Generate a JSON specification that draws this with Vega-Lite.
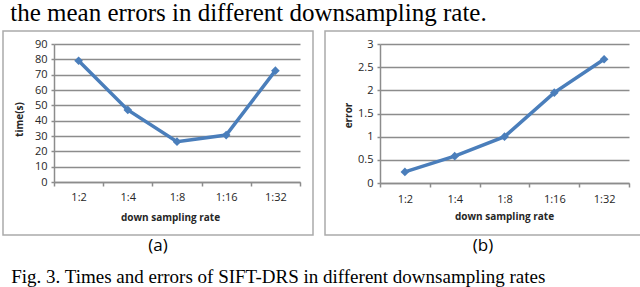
{
  "$schema": "https://vega.github.io/schema/vega-lite/v6.json",
  "padding": {"left": 2, "top": 1, "right": 0, "bottom": 0},
  "background": "white",
  "config": {
    "view": {"stroke": "#ababab", "strokeWidth": 1.5},
    "axis": {
      "labelFont": "Open Sans", "labelFontSize": 11, "labelColor": "#262626",
      "titleFont": "Open Sans", "titleFontSize": 10, "titleFontWeight": "bold", "titleColor": "#262626",
      "domainColor": "#8c8c8c", "domainWidth": 1.5, "tickColor": "#8c8c8c", "tickWidth": 1.5,
      "gridColor": "#8c8c8c", "gridWidth": 1.5
    }
  },
  "title": {
    "text": "Fig. 3. Times and errors of SIFT-DRS in different downsampling rates",
    "orient": "bottom", "anchor": "start", "font": "Liberation Serif", "fontSize": 19,
    "fontWeight": "normal", "color": "#000000", "dx": 9, "offset": 13
  },
  "vconcat": [
    {
      "title": {
        "text": "the mean errors in different downsampling rate.",
        "anchor": "start", "font": "Liberation Serif", "fontSize": 25,
        "fontWeight": "normal", "color": "#000000", "dx": 8, "offset": 4
      },
      "spacing": 10,
      "hconcat": [
        {
          "width": 310, "height": 204,
          "title": {"text": "(a)", "orient": "bottom", "font": "Open Sans", "fontSize": 17, "fontWeight": "normal", "color": "#000000", "offset": 3},
          "data": {"values": [
            {"rate": "1:2", "time": 79.1},
            {"rate": "1:4", "time": 47},
            {"rate": "1:8", "time": 26.3},
            {"rate": "1:16", "time": 30.6},
            {"rate": "1:32", "time": 72.6}
          ]},
          "encoding": {
            "x": {"field": "rate", "type": "ordinal", "sort": null,
              "scale": {"type": "band", "range": [51, 297], "paddingInner": 0, "paddingOuter": 0},
              "axis": {"orient": "bottom", "offset": -53, "tickBand": "extent", "labelAngle": 0, "tickSize": 4,
                "labelPadding": 11, "labelBaseline": "middle",
                "title": "down sampling rate", "titleX": 167, "titleY": 35, "titleBaseline": "middle", "titleAlign": "center"}},
            "y": {"field": "time", "type": "quantitative",
              "scale": {"domain": [0, 90], "range": [151, 13], "nice": false, "zero": true},
              "axis": {"orient": "left", "offset": -51, "values": [0, 10, 20, 30, 40, 50, 60, 70, 80, 90], "grid": true,
                "tickSize": 3, "labelPadding": 4, "title": "time(s)", "titleAngle": -90, "titleX": -35, "titleY": 88,
                "titleBaseline": "middle", "titleAlign": "center"}}
          },
          "layer": [
            {"mark": {"type": "line", "color": "#4a7ebb", "strokeWidth": 3.5}},
            {"mark": {"type": "point", "shape": "diamond", "filled": true, "color": "#4a7ebb", "size": 75, "opacity": 1}}
          ]
        },
        {
          "width": 316, "height": 204,
          "title": {"text": "(b)", "orient": "bottom", "font": "Open Sans", "fontSize": 17, "fontWeight": "normal", "color": "#000000", "offset": 3},
          "data": {"values": [
            {"rate": "1:2", "error": 0.24},
            {"rate": "1:4", "error": 0.58},
            {"rate": "1:8", "error": 1.0},
            {"rate": "1:16", "error": 1.95},
            {"rate": "1:32", "error": 2.67}
          ]},
          "encoding": {
            "x": {"field": "rate", "type": "ordinal", "sort": null,
              "scale": {"type": "band", "range": [55, 304], "paddingInner": 0, "paddingOuter": 0},
              "axis": {"orient": "bottom", "offset": -52, "tickBand": "extent", "labelAngle": 0, "tickSize": 4,
                "labelPadding": 12, "labelBaseline": "middle",
                "title": "down sampling rate", "titleX": 179, "titleY": 33, "titleBaseline": "middle", "titleAlign": "center"}},
            "y": {"field": "error", "type": "quantitative",
              "scale": {"domain": [0, 3], "range": [152, 13], "nice": false, "zero": true},
              "axis": {"orient": "left", "offset": -55, "values": [0, 0.5, 1, 1.5, 2, 2.5, 3], "format": "~g", "grid": true,
                "tickSize": 3, "labelPadding": 4, "title": "error", "titleAngle": -90, "titleX": -32, "titleY": 84,
                "titleBaseline": "middle", "titleAlign": "center"}}
          },
          "layer": [
            {"mark": {"type": "line", "color": "#4a7ebb", "strokeWidth": 3.5}},
            {"mark": {"type": "point", "shape": "diamond", "filled": true, "color": "#4a7ebb", "size": 75, "opacity": 1}}
          ]
        }
      ]
    }
  ]
}
